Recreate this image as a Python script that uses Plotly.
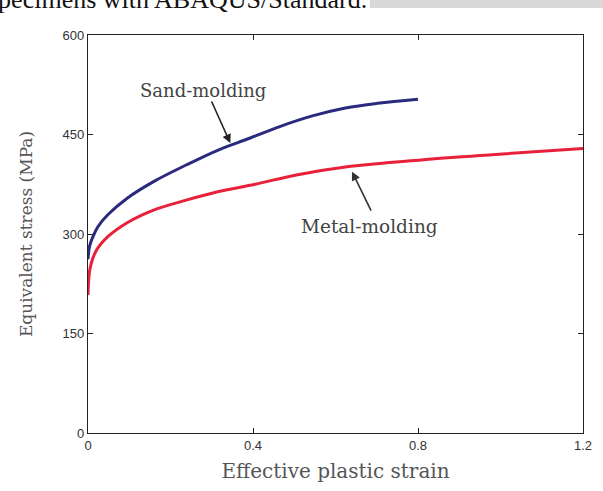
import plotly.graph_objects as go

# Sand-molding curve
sand_strain = [0, 0.004, 0.012, 0.024, 0.048, 0.095, 0.159, 0.238, 0.317, 0.39, 0.465, 0.544, 0.624, 0.702, 0.8]
sand_stress = [262, 282, 296, 311, 329, 354, 379, 404, 427, 444, 462, 478, 490, 497, 503]

# Metal-molding curve
metal_strain = [0, 0.004, 0.012, 0.024, 0.048, 0.095, 0.159, 0.238, 0.317, 0.405, 0.505, 0.624, 0.814, 0.988, 1.2]
metal_stress = [208, 245, 264, 279, 296, 317, 336, 351, 364, 375, 389, 401, 412, 420, 429]

x_ticks = [0, 0.4, 0.8, 1.2]
x_tick_text = ["0", "0.4", "0.8", "1.2"]
y_ticks = [0, 150, 300, 450, 600]

serif = "DejaVu Serif, serif"
times = "Liberation Serif, Times New Roman, serif"
sans = "Liberation Sans, Arial, sans-serif"

fig = go.Figure()
fig.add_trace(go.Scatter(x=sand_strain, y=sand_stress, mode="lines",
                         line=dict(color="#2a2a7e", width=3, shape="spline"),
                         name="Sand-molding", showlegend=False))
fig.add_trace(go.Scatter(x=metal_strain, y=metal_stress, mode="lines",
                         line=dict(color="#e8203a", width=3, shape="spline"),
                         name="Metal-molding", showlegend=False))

# text labels
fig.add_annotation(x=0.279, y=517, text="Sand-molding", showarrow=False,
                   font=dict(family=serif, size=18, color="#444"))
fig.add_annotation(x=0.683, y=311, text="Metal-molding", showarrow=False,
                   font=dict(family=serif, size=18.5, color="#444"))
# arrows
fig.add_annotation(x=0.345, y=437, ax=0.298, ay=502, axref="x", ayref="y",
                   text="", showarrow=True, arrowhead=2, arrowsize=1.1,
                   arrowwidth=1.6, arrowcolor="#222")
fig.add_annotation(x=0.64, y=394, ax=0.688, ay=333, axref="x", ayref="y",
                   text="", showarrow=True, arrowhead=2, arrowsize=1.1,
                   arrowwidth=1.6, arrowcolor="#333")

# clipped caption text from the scan at the top
fig.add_shape(type="rect", xref="paper", yref="paper",
              x0=(375 - 88) / 504, x1=1.1, y0=(433 - 8) / 398, y1=1.15,
              fillcolor="#d8d8d8", line=dict(width=0), layer="below")
fig.add_annotation(xref="paper", yref="paper", x=(374 - 88) / 504, y=(433 - 16) / 398,
                   xanchor="right", yanchor="bottom", showarrow=False,
                   text="specimens with ABAQUS/Standard.",
                   font=dict(family=times, size=26, color="#111"))

fig.update_xaxes(range=[0, 1.2], tickvals=x_ticks, ticktext=x_tick_text,
                 ticks="inside", ticklen=5, tickcolor="#222",
                 showline=True, linecolor="#222", linewidth=1.3, mirror="ticks",
                 showgrid=False, zeroline=False,
                 tickfont=dict(family=sans, size=13, color="#333"),
                 title=dict(text="Effective plastic strain", standoff=12,
                            font=dict(family=serif, size=20, color="#555")))
fig.update_yaxes(range=[0, 600], tickvals=y_ticks,
                 ticks="inside", ticklen=5, tickcolor="#222",
                 showline=True, linecolor="#222", linewidth=1.3, mirror="ticks",
                 showgrid=False, zeroline=False,
                 tickfont=dict(family=sans, size=13, color="#333"),
                 title=dict(text="Equivalent stress (MPa)", standoff=25,
                            font=dict(family=serif, size=17, color="#555")))

fig.update_layout(width=603, height=491,
                  margin=dict(l=88, r=11, t=35, b=58),
                  paper_bgcolor="white", plot_bgcolor="white")

fig.write_html("out.html", config={"displayModeBar": False},
               post_script="document.body.style.margin='0';")
